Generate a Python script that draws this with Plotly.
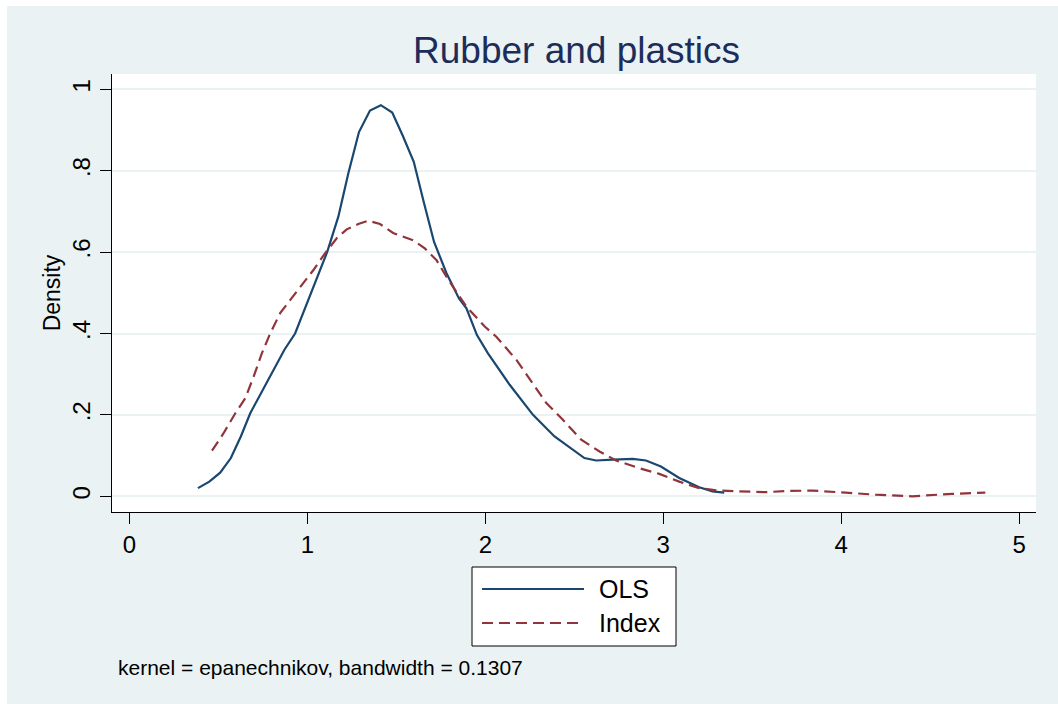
import plotly.graph_objects as go

# ---- data ----
ols_x = [0.385, 0.449, 0.510, 0.570, 0.626, 0.679, 0.744, 0.810, 0.871, 0.931,
         0.987, 1.049, 1.112, 1.174, 1.230, 1.290, 1.352, 1.413, 1.477, 1.535,
         1.598, 1.654, 1.712, 1.782, 1.852, 1.894, 1.953, 2.015, 2.137, 2.268,
         2.389, 2.557, 2.623, 2.716, 2.829, 2.903, 2.987, 3.090, 3.202, 3.277, 3.343]
ols_y = [0.020, 0.036, 0.058, 0.094, 0.147, 0.204, 0.257, 0.312, 0.360, 0.400,
         0.462, 0.531, 0.601, 0.687, 0.793, 0.895, 0.948, 0.961, 0.943, 0.887,
         0.822, 0.723, 0.625, 0.548, 0.486, 0.462, 0.396, 0.351, 0.274, 0.200,
         0.147, 0.094, 0.088, 0.090, 0.092, 0.088, 0.073, 0.045, 0.022, 0.012, 0.009]

index_x = [0.464, 0.529, 0.595, 0.651, 0.698, 0.744, 0.791, 0.847, 0.903, 0.969,
           1.034, 1.099, 1.165, 1.221, 1.286, 1.342, 1.408, 1.482, 1.538, 1.595,
           1.660, 1.726, 1.795, 1.894, 1.997, 2.062, 2.175, 2.268, 2.343, 2.436,
           2.539, 2.642, 2.735, 2.866, 2.978, 3.090, 3.202, 3.314, 3.445, 3.576,
           3.689, 3.838, 4.025, 4.193, 4.399, 4.623, 4.810]
index_y = [0.112, 0.155, 0.204, 0.241, 0.294, 0.351, 0.400, 0.450, 0.482, 0.519,
           0.556, 0.597, 0.634, 0.656, 0.669, 0.677, 0.669, 0.647, 0.638, 0.629,
           0.609, 0.580, 0.530, 0.466, 0.417, 0.392, 0.335, 0.278, 0.229, 0.188,
           0.139, 0.110, 0.088, 0.069, 0.055, 0.036, 0.020, 0.014, 0.012, 0.010,
           0.013, 0.014, 0.009, 0.004, 0.000, 0.006, 0.009]

x_ticks = [0, 1, 2, 3, 4, 5]
x_ticktext = ["0", "1", "2", "3", "4", "5"]
y_ticks = [0, 0.2, 0.4, 0.6, 0.8, 1.0]
y_ticktext = ["0", ".2", ".4", ".6", ".8", "1"]

series_names = ["OLS", "Index"]
title_text = "Rubber and plastics"
note_text = "kernel = epanechnikov, bandwidth = 0.1307"

# ---- styling ----
W, H = 1058, 704
ML, MR, MT, MB = 112, 22, 74, 192
PW, PH = W - ML - MR, H - MT - MB
BG = "#EAF2F3"
NAVY = "#1A476F"
MAROON = "#90353B"
FONT = "Liberation Sans, Arial, Helvetica, sans-serif"


def px(xp):
    return (xp - ML) / PW


def py(yp):
    return (H - MB - yp) / PH


fig = go.Figure()
fig.add_trace(go.Scatter(x=ols_x, y=ols_y, mode="lines", name=series_names[0],
                         line=dict(color=NAVY, width=2.2), showlegend=False))
fig.add_trace(go.Scatter(x=index_x, y=index_y, mode="lines", name=series_names[1],
                         line=dict(color=MAROON, width=2.2, dash="11px,6px"),
                         showlegend=False))

shapes = [
    # white outer strips (top and left)
    dict(type="rect", xref="paper", yref="paper", x0=px(-10), x1=px(W + 10),
         y0=py(6), y1=py(-10), fillcolor="white", line=dict(width=0), layer="below"),
    dict(type="rect", xref="paper", yref="paper", x0=px(-10), x1=px(7),
         y0=py(H + 10), y1=py(-10), fillcolor="white", line=dict(width=0), layer="below"),
    # legend box
    dict(type="rect", xref="paper", yref="paper", x0=px(472), x1=px(676),
         y0=py(646), y1=py(567), fillcolor="white", line=dict(color="black", width=1)),
    dict(type="line", xref="paper", yref="paper", x0=px(482), x1=px(584),
         y0=py(589), y1=py(589), line=dict(color=NAVY, width=2.2)),
    dict(type="line", xref="paper", yref="paper", x0=px(482), x1=px(584),
         y0=py(623), y1=py(623), line=dict(color=MAROON, width=2.2, dash="11px,6px")),
]

annotations = [
    dict(text=title_text, xref="paper", yref="paper", x=px(576), y=py(50),
         xanchor="center", yanchor="middle", showarrow=False,
         font=dict(family=FONT, size=37, color="#1C2D5A")),
    dict(text=series_names[0], xref="paper", yref="paper", x=px(597), y=py(589),
         xanchor="left", yanchor="middle", showarrow=False,
         font=dict(family=FONT, size=25, color="black")),
    dict(text=series_names[1], xref="paper", yref="paper", x=px(597), y=py(623),
         xanchor="left", yanchor="middle", showarrow=False,
         font=dict(family=FONT, size=25, color="black")),
    dict(text=note_text, xref="paper", yref="paper", x=px(116), y=py(667),
         xanchor="left", yanchor="middle", showarrow=False,
         font=dict(family=FONT, size=21, color="black")),
]

fig.update_layout(
    width=W, height=H,
    margin=dict(l=ML, r=MR, t=MT, b=MB, pad=0),
    paper_bgcolor=BG, plot_bgcolor="white",
    showlegend=False,
    shapes=shapes, annotations=annotations,
    font=dict(family=FONT, color="black"),
)
fig.update_xaxes(
    range=[-0.098, 5.095], tickvals=x_ticks, ticktext=x_ticktext,
    showgrid=False, zeroline=False,
    showline=True, linecolor="black", linewidth=1.2,
    ticks="outside", ticklen=11, tickwidth=1.2, tickcolor="black",
    tickfont=dict(family=FONT, size=24, color="black"),
)
fig.update_yaxes(
    range=[-0.0386, 1.0376], tickvals=y_ticks, ticktext=y_ticktext,
    showgrid=True, gridcolor=BG, gridwidth=2, zeroline=False,
    showline=True, linecolor="black", linewidth=1.2,
    ticks="outside", ticklen=11, tickwidth=1.2, tickcolor="black",
    tickangle=-90,
    tickfont=dict(family=FONT, size=24, color="black"),
    title=dict(text="Density", font=dict(family=FONT, size=23, color="black"),
               standoff=1),
)

fig.write_html("out.html")
